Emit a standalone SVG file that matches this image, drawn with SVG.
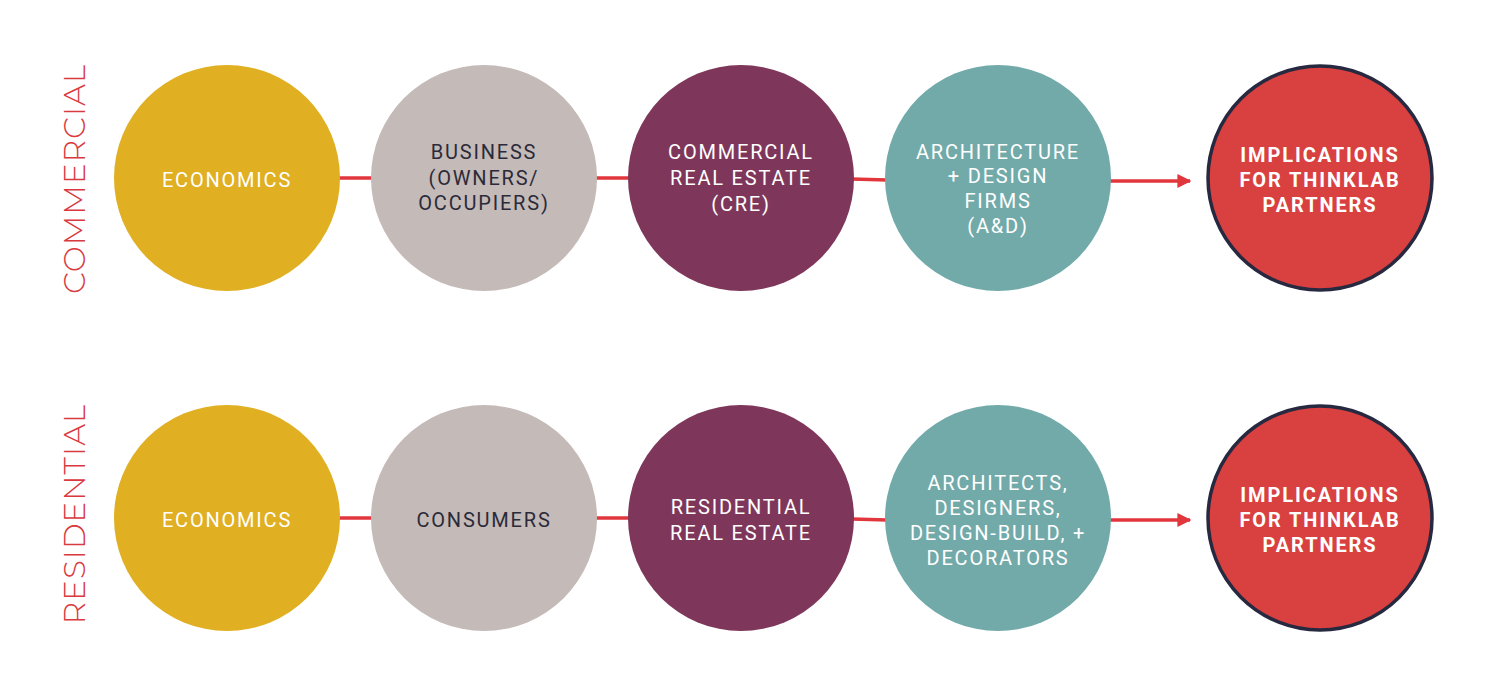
<svg xmlns="http://www.w3.org/2000/svg" width="1500" height="688" viewBox="0 0 1500 688">
<defs>
<style>
.t{font-family:Roboto,"Liberation Sans",sans-serif;font-size:20px;letter-spacing:1.8px;text-anchor:middle}
.w{fill:#ffffff}
.d{fill:#2b2a3a}
.b{font-weight:bold;letter-spacing:1.9px}
.side{font-family:Montserrat,"Open Sans",Lato,sans-serif;font-weight:300;font-size:31px;letter-spacing:1px;fill:#d93a3f;text-anchor:middle}
.c{stroke:#e2363d;stroke-width:3.5;fill:none}
</style>
<marker id="ah" viewBox="0 0 10 10" refX="9" refY="5" markerWidth="4" markerHeight="4" orient="auto" markerUnits="strokeWidth">
<path d="M0,0 L10,5 L0,10 z" fill="#e2363d"/>
</marker>
</defs>
<rect width="1500" height="688" fill="#ffffff"/>
<text class="side" transform="translate(85,179) rotate(-90)">COMMERCIAL</text>
<text class="side" transform="translate(85,514) rotate(-90)">RESIDENTIAL</text>
<g id="connectors">
<line class="c" x1="338" y1="178" x2="373" y2="178"/>
<line class="c" x1="595" y1="178" x2="630" y2="178"/>
<line class="c" x1="852" y1="179" x2="887" y2="180"/>
<line class="c" x1="1109" y1="181" x2="1190" y2="181" marker-end="url(#ah)"/>
<line class="c" x1="338" y1="518" x2="373" y2="518"/>
<line class="c" x1="595" y1="518" x2="630" y2="518"/>
<line class="c" x1="852" y1="519" x2="887" y2="520"/>
<line class="c" x1="1109" y1="520" x2="1190" y2="520" marker-end="url(#ah)"/>
</g>
<g id="c-economics">
<circle cx="227" cy="178" r="113" fill="#e0af22"/>
<text class="t w" x="227" y="187">ECONOMICS</text>
</g>
<g id="c-business">
<circle cx="484" cy="178" r="113" fill="#c4bab7"/>
<text class="t d" x="484" y="159">BUSINESS</text>
<text class="t d" x="484" y="185">(OWNERS/</text>
<text class="t d" x="484" y="210">OCCUPIERS)</text>
</g>
<g id="c-cre">
<circle cx="741" cy="178" r="113" fill="#7e375b"/>
<text class="t w" x="741" y="159">COMMERCIAL</text>
<text class="t w" x="741" y="185">REAL ESTATE</text>
<text class="t w" x="741" y="211">(CRE)</text>
</g>
<g id="c-ad">
<circle cx="998" cy="178" r="113" fill="#72aaaa"/>
<text class="t w" x="998" y="159">ARCHITECTURE</text>
<text class="t w" x="998" y="183">+ DESIGN</text>
<text class="t w" x="998" y="208">FIRMS</text>
<text class="t w" x="998" y="233">(A&amp;D)</text>
</g>
<g id="c-impl-1">
<circle cx="1320" cy="178" r="112" fill="#d94040" stroke="#262940" stroke-width="3.5"/>
<text class="t w b" x="1320" y="162">IMPLICATIONS</text>
<text class="t w b" x="1320" y="187">FOR THINKLAB</text>
<text class="t w b" x="1320" y="212">PARTNERS</text>
</g>
<g id="r-economics">
<circle cx="227" cy="518" r="113" fill="#e0af22"/>
<text class="t w" x="227" y="527">ECONOMICS</text>
</g>
<g id="r-consumers">
<circle cx="484" cy="518" r="113" fill="#c4bab7"/>
<text class="t d" x="484" y="527">CONSUMERS</text>
</g>
<g id="r-rre">
<circle cx="741" cy="518" r="113" fill="#7e375b"/>
<text class="t w" x="741" y="514">RESIDENTIAL</text>
<text class="t w" x="741" y="540">REAL ESTATE</text>
</g>
<g id="r-ad">
<circle cx="998" cy="518" r="113" fill="#72aaaa"/>
<text class="t w" x="998" y="490">ARCHITECTS,</text>
<text class="t w" x="998" y="515">DESIGNERS,</text>
<text class="t w" x="998" y="540">DESIGN-BUILD, +</text>
<text class="t w" x="998" y="565">DECORATORS</text>
</g>
<g id="r-impl">
<circle cx="1320" cy="518" r="112" fill="#d94040" stroke="#262940" stroke-width="3.5"/>
<text class="t w b" x="1320" y="502">IMPLICATIONS</text>
<text class="t w b" x="1320" y="527">FOR THINKLAB</text>
<text class="t w b" x="1320" y="552">PARTNERS</text>
</g>
</svg>
